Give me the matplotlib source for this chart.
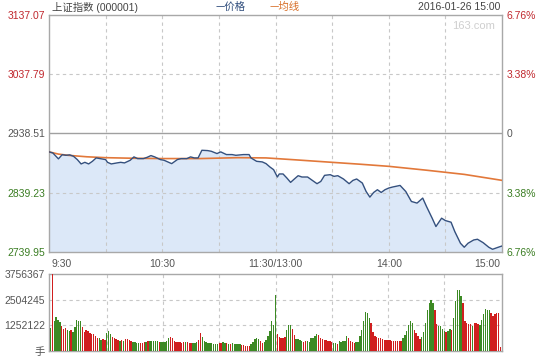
import numpy as np
import matplotlib
matplotlib.use("Agg")
import matplotlib.pyplot as plt

plt.rcParams['font.family'] = ['Liberation Sans', 'Noto Sans CJK SC', 'DejaVu Sans']

# ---------------- data ----------------
prev_close = 2938.51
price_levels = [2739.95, 2839.23, 2938.51, 3037.79, 3137.07]
pct_labels = ['6.76%', '3.38%', '0', '3.38%', '6.76%']
time_ticks = [0, 60, 120, 180, 240]
time_labels = ['9:30', '10:30', '11:30/13:00', '14:00', '15:00']
vol_ticks = [0, 1252122, 2504245, 3756367]
vol_labels = ['手', '1252122', '2504245', '3756367']

price_min = [0, 2, 5, 7, 9, 11, 13, 15, 17, 19, 21, 23, 25, 28, 30, 31, 33, 36, 38, 40,
             43, 45, 47, 50, 52, 54, 56, 59, 61, 65, 68, 70, 73, 75, 77, 79, 81, 84, 86, 89,
             91, 94, 97, 99, 103, 106, 107, 110, 113, 115, 117, 119, 121, 122, 124, 126, 128, 130, 132, 134,
             137, 139, 142, 144, 146, 149, 151, 153, 156, 159, 161, 163, 166, 168, 170, 172, 174, 176, 178, 180,
             182, 186, 189, 192, 195, 198, 200, 203, 205, 208, 210, 213, 215, 218, 220, 222, 225, 227, 230, 233,
             235, 238, 240]
price_val = [2907.7, 2906.0, 2896.0, 2903.0, 2902.0, 2902.7, 2900.3, 2894.8, 2887.5, 2890.2,
             2887.5, 2891.9, 2897.6, 2895.9, 2894.8, 2890.2, 2887.5, 2889.2, 2890.2, 2889.2,
             2893.6, 2899.3, 2896.4, 2896.4, 2898.6, 2901.5, 2899.3, 2894.8, 2893.6, 2888.0,
             2894.8, 2896.4, 2896.4, 2899.3, 2897.6, 2897.6, 2910.4, 2909.9, 2908.7, 2904.9,
             2907.7, 2903.2, 2903.2, 2902.0, 2903.2, 2903.2, 2897.6, 2891.9, 2890.9, 2888.0,
             2882.5, 2877.9, 2865.6, 2870.7, 2870.7, 2864.0, 2856.6, 2862.3, 2867.8, 2865.6,
             2865.6, 2861.1, 2854.4, 2858.2, 2868.4, 2869.5, 2866.7, 2867.8, 2862.3, 2854.4,
             2859.9, 2862.3, 2855.5, 2841.4, 2831.9, 2839.7, 2844.3, 2839.7, 2844.3, 2847.1,
             2848.8, 2851.5, 2841.4, 2824.6, 2821.9, 2830.3, 2816.2, 2796.6, 2782.6, 2796.6,
             2792.6, 2789.9, 2774.1, 2754.6, 2747.9, 2754.6, 2760.1, 2761.3, 2755.6, 2747.9,
             2744.5, 2747.9, 2750.0]

avg_min = [0, 5, 10, 20, 30, 45, 60, 80, 100, 115, 130, 150, 165, 180, 200, 220, 240]
avg_val = [2907.7, 2904.0, 2902.0, 2899.5, 2898.0, 2897.0, 2896.5, 2896.5, 2898.0, 2897.6,
           2894.5, 2890.2, 2887.0, 2883.5, 2877.0, 2870.0, 2860.0]

# volume in units of 10,000 手, one bar per minute (241 bars)
volume_wan = [
    114, 376, 144, 168, 152, 140, 124, 106, 111, 103,
    100, 103, 95, 119, 152, 147, 147, 119, 92, 103,
    98, 87, 83, 82, 74, 65, 62, 54, 57, 54,
    87, 98, 82, 70, 62, 57, 54, 51, 54, 51,
    57, 59, 54, 50, 46, 43, 41, 41, 38, 40,
    43, 46, 49, 49, 49, 49, 49, 49, 46, 43,
    46, 46, 51, 62, 70, 62, 49, 46, 43, 43,
    41, 42, 46, 43, 41, 38, 41, 41, 46, 54,
    87, 70, 51, 46, 41, 41, 38, 36, 34, 34,
    38, 41, 46, 41, 38, 34, 34, 38, 34, 34,
    34, 34, 30, 29, 25, 25, 26, 33, 46, 57,
    65, 57, 51, 41, 46, 54, 74, 100, 144, 127,
    274, 83, 70, 65, 65, 70, 103, 127, 127, 108,
    78, 59, 57, 55, 49, 43, 49, 49, 46, 62,
    65, 74, 83, 80, 65, 59, 54, 54, 51, 49,
    46, 41, 41, 34, 49, 43, 49, 49, 74, 65,
    51, 46, 41, 46, 46, 74, 103, 144, 190, 184,
    160, 136, 92, 74, 67, 65, 62, 57, 55, 54,
    54, 54, 51, 49, 50, 51, 51, 51, 62, 78,
    98, 127, 147, 136, 103, 87, 74, 59, 70, 95,
    136, 201, 234, 250, 234, 201, 132, 123, 123, 106,
    100, 95, 100, 106, 103, 163, 245, 299, 299, 270,
    234, 147, 136, 131, 131, 123, 136, 136, 130, 127,
    152, 180, 204, 201, 201, 185, 172, 180, 185, 185,
    21]
volume_dir = (
    "grggggrrrg" "grgggggrrr" "rrrrrrggrr" "gggrrrrgrg" "rrrrggggrr"
    "rgrgggggrg" "ggggrrrrrr" "rrgrrrgggr" "rggggggggg" "rrggrgrggg"
    "ggrrrrrggg" "ggrrgggggg"
    "grrrrrgggr" "rggggrrggg" "gggrrrrrrr" "rggrgggggr" "rrrggggggg"
    "grrrrrrrrr" "rrrrrrrrgg" "ggggrrrrgg" "gggggrrggg" "grggrggggg"
    "rrrrrgrrrg" "gggggrrrrr" "r")

# ---------------- colours ----------------
RED = '#c0272d'
GREEN = '#3a7d22'
BAR_RED = '#d01f1f'
BAR_GREEN = '#3c8a24'
GRAY = '#555555'
GRID = '#c8c8c8'
FRAME = '#a8a8a8'

W, H = 540, 360
fig = plt.figure(figsize=(W / 100, H / 100), dpi=100)
fig.patch.set_facecolor('white')

def fx(px):
    return px / W

def fy(py):
    return 1 - py / H

# ---------------- price panel ----------------
ax = fig.add_axes([fx(49), fy(252), fx(453), (252 - 15) / H])
ax.set_xlim(0, 240)
ax.set_ylim(price_levels[0], price_levels[-1])
ax.fill_between(price_min, price_val, price_levels[0], color='#dce8f8', lw=0, zorder=1)
ax.plot(avg_min, avg_val, color='#e2783a', lw=1.2, zorder=3)
ax.plot(price_min, price_val, color='#34507e', lw=1.0, zorder=4)

for t in range(30, 240, 30):
    ax.axvline(t, color=GRID, lw=0.8, ls=(0, (3, 3)), zorder=2)
for lv in price_levels[1:-1]:
    if lv == prev_close:
        ax.axhline(lv, color='#a0a0a0', lw=1.0, zorder=2)
    else:
        ax.axhline(lv, color=GRID, lw=0.8, ls=(0, (3, 3)), zorder=2)

for s in ax.spines.values():
    s.set_color(FRAME)
    s.set_linewidth(1.0)

ax.set_xticks([])
ax.set_yticks(price_levels)
ax.set_yticklabels([f'{v:.2f}' for v in price_levels], fontsize=7.5)
ax.tick_params(axis='y', length=0, pad=3)
lcolors = [GREEN, GREEN, GRAY, RED, RED]
for lab, c in zip(ax.get_yticklabels(), lcolors):
    lab.set_color(c)

axr = ax.twinx()
axr.set_ylim(ax.get_ylim())
axr.set_yticks(price_levels)
axr.set_yticklabels(pct_labels, fontsize=7.5)
axr.tick_params(axis='y', length=0, pad=3)
for lab, c in zip(axr.get_yticklabels(), lcolors):
    lab.set_color(c)
for s in axr.spines.values():
    s.set_visible(False)

ax.text(0.985, 0.955, '163.com', transform=ax.transAxes, ha='right', va='center',
        fontsize=8, color='#cfcfcf')

# ---------------- x labels between panels ----------------
for t, lab in zip(time_ticks, time_labels):
    ha = 'center'
    xx = t
    if t == 0:
        ha = 'left'
        xx = 1.2
    elif t == 240:
        ha = 'right'
        xx = 239
    ax.text(xx, -0.028, lab, transform=ax.get_xaxis_transform(), ha=ha, va='top',
            fontsize=7.5, color=GRAY)

# ---------------- volume panel ----------------
axv = fig.add_axes([fx(49), fy(351), fx(453), (351 - 274) / H])
minutes = np.arange(len(volume_wan))
vol = np.array(volume_wan) * 10000
bar_colors = [BAR_RED if c == 'r' else BAR_GREEN for c in volume_dir]
axv.bar(minutes, vol, width=0.7, color=bar_colors, linewidth=0, zorder=3,
        antialiased=False)
axv.set_xlim(-0.8, 240.8)
axv.set_ylim(0, vol_ticks[-1])
for t in range(30, 240, 30):
    axv.axvline(t, color=GRID, lw=0.8, ls=(0, (3, 3)), zorder=1)
for lv in vol_ticks[1:3]:
    axv.axhline(lv, color=GRID, lw=0.8, ls=(0, (3, 3)), zorder=1)
for s in axv.spines.values():
    s.set_color(FRAME)
    s.set_linewidth(1.0)
axv.set_xticks([])
axv.set_yticks(vol_ticks)
axv.set_yticklabels(vol_labels, fontsize=7.5, color=GRAY)
axv.tick_params(axis='y', length=0, pad=3)

# ---------------- header ----------------
fig.text(fx(52), fy(7), '上证指数 (000001)', ha='left', va='center', fontsize=7.5, color='#444444')
fig.text(fx(216), fy(7), '—价格', ha='left', va='center', fontsize=7.5, color='#2c4a7a',
         family=['Noto Sans CJK SC', 'DejaVu Sans'])
fig.text(fx(270), fy(7), '—均线', ha='left', va='center', fontsize=7.5, color='#d8702a',
         family=['Noto Sans CJK SC', 'DejaVu Sans'])
fig.text(fx(500), fy(7), '2016-01-26 15:00', ha='right', va='center', fontsize=7.5, color='#444444')

fig.savefig('out.png', dpi=100, facecolor='white')
